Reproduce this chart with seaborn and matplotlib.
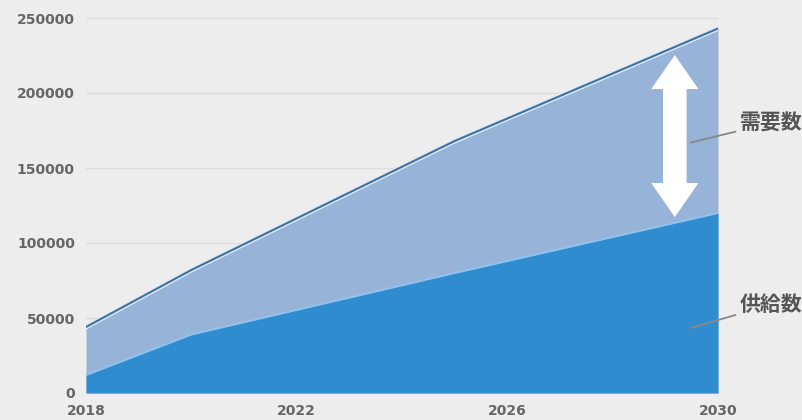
import matplotlib
matplotlib.use('Agg')
import matplotlib.pyplot as plt
import seaborn as sns
import pandas as pd

# values
years = [2018, 2020, 2025, 2030]
demand = [44000, 82000, 168000, 243000]
supply = [12000, 39000, 80000, 120000]
x_ticks = [2018, 2022, 2026, 2030]
y_ticks = [0, 50000, 100000, 150000, 200000, 250000]

df = pd.DataFrame({'year': years, 'demand': demand, 'supply': supply})

bg = '#EDEDED'
sns.set_theme(style='white', rc={'figure.facecolor': bg, 'axes.facecolor': bg})
plt.rcParams['font.family'] = ['DejaVu Sans', 'Noto Sans CJK JP']

fig = plt.figure(figsize=(8.02, 4.2), dpi=100)
ax = fig.add_axes([86 / 802, 27 / 420, 632 / 802, 375 / 420])

# gridlines
for y in y_ticks[1:]:
    ax.axhline(y, color='#DCDCDC', lw=1, zorder=0)

# areas
ax.fill_between(df['year'], df['demand'], color='#97B3D7', lw=0, zorder=1)
ax.fill_between(df['year'], df['supply'], color='#2F8CCF', lw=0, zorder=2)
sns.lineplot(data=df, x='year', y='supply', color='#8EC3F0', lw=1.5, ax=ax, zorder=3)
sns.lineplot(data=df, x='year', y='demand', color='#DDEBF8', lw=3.5, ax=ax, zorder=3)
sns.lineplot(data=df, x='year', y='demand', color='#40709E', lw=1.5, ax=ax, zorder=4)

ax.set_xlim(2018, 2030)
ax.set_ylim(0, 250000)
ax.set_xticks(x_ticks)
ax.set_yticks(y_ticks)
ax.set_xticklabels([str(t) for t in x_ticks])
ax.set_yticklabels([str(t) for t in y_ticks])
ax.tick_params(axis='both', length=0, labelsize=10, labelcolor='#666666')
ax.tick_params(axis='y', pad=8)
ax.tick_params(axis='x', pad=8)
for lab in ax.get_xticklabels() + ax.get_yticklabels():
    lab.set_fontweight('bold')
ax.set_xlabel('')
ax.set_ylabel('')
for s in ax.spines.values():
    s.set_visible(False)

# white double arrow for the gap
ax_x = 2029.18
mid = 171300
style = 'simple,head_length=24.5,head_width=34,tail_width=17'
for tip in (225300, 117300):
    ax.annotate('', xy=(ax_x, tip), xytext=(ax_x, mid),
                arrowprops=dict(arrowstyle=style, color='white', lw=0,
                                shrinkA=0, shrinkB=0, mutation_scale=1),
                zorder=5)

# labels with leader lines
cjk = ['Noto Sans CJK JP', 'DejaVu Sans']
ax.annotate('需要数', xy=(2029.48, 167000), xytext=(2030.42, 180000),
            textcoords='data', fontsize=15, fontweight='bold', color='#555555',
            family=cjk, va='center', ha='left', annotation_clip=False,
            arrowprops=dict(arrowstyle='-', color='#888888', lw=1.3,
                            shrinkA=1, shrinkB=0))
ax.annotate('供給数', xy=(2029.48, 43300), xytext=(2030.42, 59000),
            textcoords='data', fontsize=15, fontweight='bold', color='#555555',
            family=cjk, va='center', ha='left', annotation_clip=False,
            arrowprops=dict(arrowstyle='-', color='#888888', lw=1.3,
                            shrinkA=1, shrinkB=0))

fig.savefig('out.png', dpi=100, facecolor=bg)
